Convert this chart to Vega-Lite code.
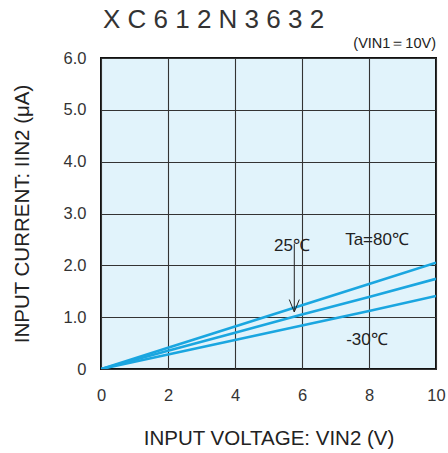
{
  "$schema": "https://vega.github.io/schema/vega-lite/v6.json",
  "width": 335,
  "height": 311,
  "autosize": {"type": "none"},
  "padding": {"left": 101, "top": 58, "right": 12, "bottom": 84},
  "background": "white",
  "config": {
    "font": "Liberation Sans",
    "view": {"fill": "#e1f3fb", "stroke": "#111111", "strokeWidth": 2},
    "axis": {
      "grid": true, "gridColor": "#333333", "gridWidth": 1.1, "gridOpacity": 1,
      "domain": false, "ticks": false,
      "labelFont": "Liberation Sans", "labelFontSize": 16.5, "labelColor": "#333333",
      "titleFont": "Liberation Sans", "titleFontSize": 20.5, "titleFontWeight": "normal", "titleColor": "#222222"
    }
  },
  "datasets": {
    "curves": [
      {"v": 0, "i": 0, "ta": "80"}, {"v": 2, "i": 0.41, "ta": "80"}, {"v": 4, "i": 0.82, "ta": "80"}, {"v": 6, "i": 1.23, "ta": "80"}, {"v": 8, "i": 1.64, "ta": "80"}, {"v": 10, "i": 2.05, "ta": "80"},
      {"v": 0, "i": 0, "ta": "25"}, {"v": 2, "i": 0.35, "ta": "25"}, {"v": 4, "i": 0.7, "ta": "25"}, {"v": 6, "i": 1.05, "ta": "25"}, {"v": 8, "i": 1.39, "ta": "25"}, {"v": 10, "i": 1.74, "ta": "25"},
      {"v": 0, "i": 0, "ta": "-30"}, {"v": 2, "i": 0.28, "ta": "-30"}, {"v": 4, "i": 0.56, "ta": "-30"}, {"v": 6, "i": 0.84, "ta": "-30"}, {"v": 8, "i": 1.12, "ta": "-30"}, {"v": 10, "i": 1.41, "ta": "-30"}
    ],
    "labels": [
      {"v": 8.24, "i": 2.49, "t": "Ta=80℃"},
      {"v": 5.7, "i": 2.37, "t": "25℃"},
      {"v": 7.94, "i": 0.56, "t": "-30℃"}
    ],
    "arrow": [
      {"v": 5.77, "i": 2.42, "k": "shaft", "o": 1}, {"v": 5.77, "i": 1.1, "k": "shaft", "o": 2},
      {"v": 5.62, "i": 1.34, "k": "head", "o": 1}, {"v": 5.77, "i": 1.1, "k": "head", "o": 2}, {"v": 5.92, "i": 1.34, "k": "head", "o": 3}
    ],
    "note": [{"v": 10, "i": 6, "t": "(VIN1＝10V)"}],
    "heading": [{"v": 0, "i": 6, "t": "X C 6 1 2 N 3 6 3 2"}]
  },
  "layer": [
    {
      "data": {"name": "curves"},
      "mark": {"type": "line", "color": "#1aa6e0", "strokeWidth": 2.6, "clip": true},
      "encoding": {
        "x": {"field": "v", "type": "quantitative", "scale": {"domain": [0, 10], "nice": false},
          "axis": {"values": [0, 2, 4, 6, 8, 10], "labelFlush": false, "labelPadding": 18, "title": "INPUT VOLTAGE: VIN2 (V)", "titlePadding": 25}},
        "y": {"field": "i", "type": "quantitative", "scale": {"domain": [0, 6], "nice": false},
          "axis": {"values": [0, 1, 2, 3, 4, 5, 6], "labelFlush": false, "labelPadding": 15, "labelExpr": "datum.value == 0 ? '0' : format(datum.value, '.1f')", "title": "INPUT CURRENT: IIN2 (μA)", "titlePadding": 31}},
        "detail": {"field": "ta"}
      }
    },
    {
      "data": {"name": "labels"},
      "mark": {"type": "text", "fontSize": 17, "color": "#222222", "font": "Liberation Sans"},
      "encoding": {
        "x": {"field": "v", "type": "quantitative"},
        "y": {"field": "i", "type": "quantitative"},
        "text": {"field": "t"}
      }
    },
    {
      "data": {"name": "arrow"},
      "mark": {"type": "line", "color": "#222222", "strokeWidth": 1},
      "encoding": {
        "x": {"field": "v", "type": "quantitative"},
        "y": {"field": "i", "type": "quantitative"},
        "detail": {"field": "k"},
        "order": {"field": "o"}
      }
    },
    {
      "data": {"name": "note"},
      "mark": {"type": "text", "align": "right", "baseline": "bottom", "dy": -7, "fontSize": 14.5, "color": "#222222", "font": "Liberation Sans"},
      "encoding": {
        "x": {"field": "v", "type": "quantitative"},
        "y": {"field": "i", "type": "quantitative"},
        "text": {"field": "t"}
      }
    },
    {
      "data": {"name": "heading"},
      "mark": {"type": "text", "align": "left", "baseline": "alphabetic", "dx": 2, "dy": -30, "fontSize": 26, "color": "#333333", "font": "Liberation Sans"},
      "encoding": {
        "x": {"field": "v", "type": "quantitative"},
        "y": {"field": "i", "type": "quantitative"},
        "text": {"field": "t"}
      }
    }
  ]
}
